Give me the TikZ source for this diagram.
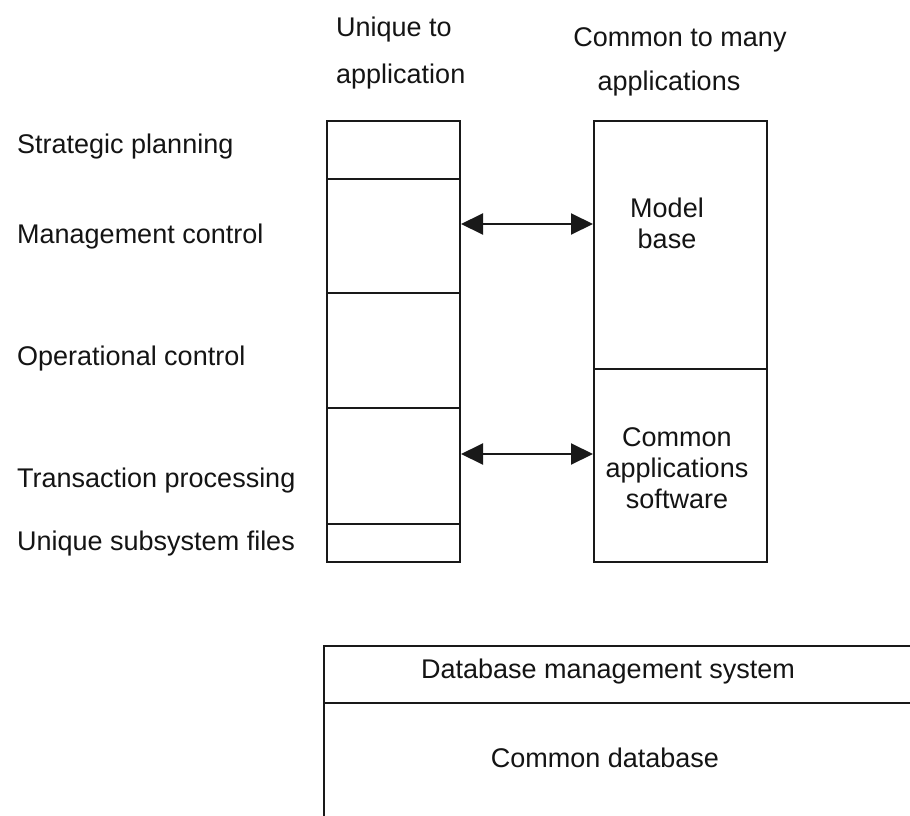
\documentclass[tikz,border=0pt]{standalone}
\usepackage{fontspec}
\setmainfont{Liberation Sans}
\usetikzlibrary{arrows.meta}
\begin{document}
\begin{tikzpicture}[x=1pt,y=-1pt,
  lbl/.style={inner sep=0pt, text=black!92, font=\fontsize{27}{31}\selectfont},
  cell/.style={draw=black!90, line width=2pt, inner sep=0pt, anchor=north west},
  link/.style={draw=black!90, line width=2pt,
    {Triangle[length=22pt,width=21pt]}-{Triangle[length=22pt,width=21pt]}}
]
% page frame
\useasboundingbox (0,0) rectangle (910,816);
\fill[white] (0,0) rectangle (910,816);
\clip (0,0) rectangle (910,816);

% column headings
\node[lbl, anchor=base west] (hua) at (336,37) {Unique to};
\node[lbl, anchor=base west] (hub) at (336,83) {application};
\node[lbl, anchor=base] (hca) at (680,47) {Common to many};
\node[lbl, anchor=base] (hcb) at (669,91) {applications};

% level labels
\node[lbl, anchor=base west] (lsp) at (17,153) {Strategic planning};
\node[lbl, anchor=base west] (lmc) at (17,243) {Management control};
\node[lbl, anchor=base west] (loc) at (17,365) {Operational control};
\node[lbl, anchor=base west] (ltp) at (17,487) {Transaction processing};
\node[lbl, anchor=base west] (lus) at (17,550) {Unique subsystem files};

% application-specific column
\node[cell, minimum width=133pt, minimum height=58pt]  (c1) at (326,120) {};
\node[cell, minimum width=133pt, minimum height=114pt] (c2) at (326,178) {};
\node[cell, minimum width=133pt, minimum height=115pt] (c3) at (326,292) {};
\node[cell, minimum width=133pt, minimum height=116pt] (c4) at (326,407) {};
\node[cell, minimum width=133pt, minimum height=38pt]  (c5) at (326,523) {};

% shared column
\node[cell, minimum width=173pt, minimum height=248pt] (mb)  at (593,120) {};
\node[cell, minimum width=173pt, minimum height=193pt] (cas) at (593,368) {};
\node[lbl, align=center] (mbt)  at (667,223) {Model\\base};
\node[lbl, align=center] (cast) at (677,468) {Common\\applications\\software};

% links between the columns
\draw[link] ([yshift=12pt]c2.east) -- ([yshift=12pt]c2.east -| mb.west);
\draw[link] ([yshift=12pt]c4.east) -- ([yshift=12pt]c4.east -| cas.west);

% database layer
\node[cell, minimum width=610pt, minimum height=57pt]  (dbms) at (323,645) {};
\node[cell, minimum width=610pt, minimum height=140pt] (db)   at (323,702) {};
\node[lbl, anchor=base] (dbmst) at (608,678) {Database management system};
\node[lbl, anchor=base] (dbt)   at (605,767) {Common database};
\end{tikzpicture}
\end{document}
